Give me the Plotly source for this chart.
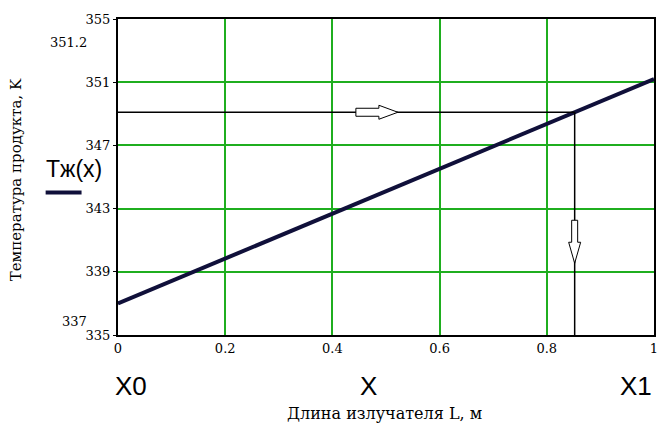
import plotly.graph_objects as go

# Data
x_vals = [0.0, 0.2, 0.4, 0.6, 0.8, 1.0]
t_vals = [337.0, 339.84, 342.68, 345.52, 348.36, 351.2]
x_cross = 0.852
t_cross = 337.0 + (351.2 - 337.0) * x_cross
y_ticks = [335, 339, 343, 347, 351, 355]
x_ticks = [0, 0.2, 0.4, 0.6, 0.8, 1]
x_tick_text = ["0", "0.2", "0.4", "0.6", "0.8", "1"]
marker_labels = ["351.2", "337"]

SERIF = "DejaVu Serif, serif"
SANS = "Liberation Sans, Arial, sans-serif"

fig = go.Figure()
fig.add_trace(go.Scatter(x=x_vals, y=t_vals, mode="lines",
                         line=dict(color="#10103a", width=4), showlegend=False,
                         hoverinfo="skip"))

# crosshair lines
fig.add_trace(go.Scatter(x=[0, x_cross], y=[t_cross, t_cross], mode="lines",
                         line=dict(color="black", width=1.5), showlegend=False))
fig.add_trace(go.Scatter(x=[x_cross, x_cross], y=[t_cross, 335], mode="lines",
                         line=dict(color="black", width=1.5), showlegend=False))

shapes = []
# horizontal open arrow (pointing right), anchored at data coords
shapes.append(dict(type="path", xref="x", yref="y", xsizemode="pixel", ysizemode="pixel",
                   xanchor=0.483, yanchor=t_cross,
                   path="M -21,-4 L 2,-4 L 2,-7 L 21,0 L 2,7 L 2,4 L -21,4 Z",
                   line=dict(color="black", width=1), fillcolor="white", layer="above"))
# vertical open arrow (pointing down)
shapes.append(dict(type="path", xref="x", yref="y", xsizemode="pixel", ysizemode="pixel",
                   xanchor=x_cross, yanchor=340.87,
                   path="M -3,22 L -3,0 L -6,0 L 0,-21 L 6,0 L 3,0 L 3,22 Z",
                   line=dict(color="black", width=1), fillcolor="white", layer="above"))
# legend line sample under Tж(x)
shapes.append(dict(type="line", xref="paper", yref="paper",
                   x0=-0.135, x1=-0.068, y0=0.4508, y1=0.4508,
                   line=dict(color="#10103a", width=4)))

annotations = [
    dict(text="Тж(x)", x=-0.0824, y=0.525, xref="paper", yref="paper", xanchor="center",
         yanchor="middle", showarrow=False, font=dict(family=SANS, size=23, color="black")),
    dict(text=marker_labels[0], x=-0.055, y=0.927, xref="paper", yref="paper",
         xanchor="right", yanchor="middle", showarrow=False,
         font=dict(family=SERIF, size=13, color="black")),
    dict(text=marker_labels[1], x=-0.055, y=0.044, xref="paper", yref="paper",
         xanchor="right", yanchor="middle", showarrow=False,
         font=dict(family=SERIF, size=13, color="black")),
    dict(text="X0", x=0.024, y=-0.16, xref="paper", yref="paper", xanchor="center",
         yanchor="middle", showarrow=False, font=dict(family=SANS, size=26, color="black")),
    dict(text="X", x=0.467, y=-0.16, xref="paper", yref="paper", xanchor="center",
         yanchor="middle", showarrow=False, font=dict(family=SANS, size=26, color="black")),
    dict(text="X1", x=0.967, y=-0.16, xref="paper", yref="paper", xanchor="center",
         yanchor="middle", showarrow=False, font=dict(family=SANS, size=26, color="black")),
    dict(text="Длина излучателя L, м", x=0.497, y=-0.248, xref="paper", yref="paper",
         xanchor="center", yanchor="middle", showarrow=False,
         font=dict(family=SERIF, size=16, color="black")),
    dict(text="Температура продукта, K", x=-0.19, y=0.49, xref="paper", yref="paper",
         xanchor="center", yanchor="middle", textangle=-90, showarrow=False,
         font=dict(family=SERIF, size=15, color="black")),
]

fig.update_layout(
    width=665, height=432,
    margin=dict(l=118, r=7, t=19, b=97),
    paper_bgcolor="white", plot_bgcolor="white",
    shapes=shapes, annotations=annotations,
    showlegend=False,
    xaxis=dict(range=[0, 1], tickvals=x_ticks, ticktext=x_tick_text,
               showgrid=True, gridcolor="#1fae1f", gridwidth=1.5,
               showline=True, linecolor="black", linewidth=2, mirror=True,
               ticks="", zeroline=False,
               tickfont=dict(family=SERIF, size=13, color="black")),
    yaxis=dict(range=[335, 355], tickvals=y_ticks,
               showgrid=True, gridcolor="#1fae1f", gridwidth=1.5,
               showline=True, linecolor="black", linewidth=2, mirror=True,
               ticks="outside", ticklen=3, tickcolor="black", zeroline=False,
               tickfont=dict(family=SERIF, size=13, color="black")),
)
fig.write_html("out.html")
